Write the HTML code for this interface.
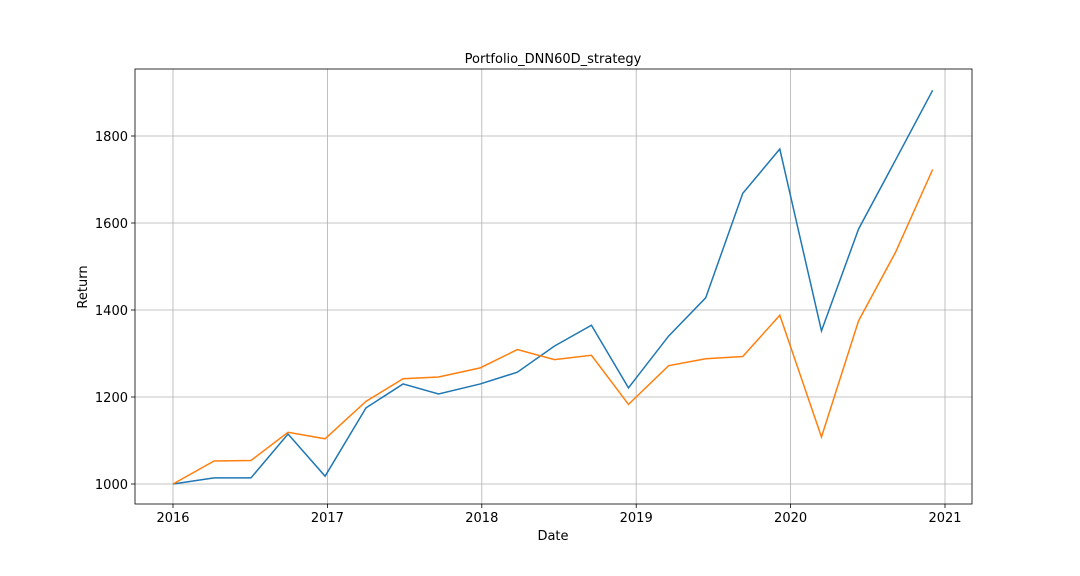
<!DOCTYPE html>
<html><head><meta charset="utf-8"><style>
body{margin:0;background:#fff;}
svg{display:block;font-family:"DejaVu Sans","Liberation Sans",sans-serif;}
</style></head><body>
<svg id="chart" width="1080" height="576"></svg>
<script>
const dates=[2016.0,2016.266,2016.505,2016.745,2016.985,2017.25,2017.49,2017.72,2017.99,2018.23,2018.47,2018.71,2018.95,2019.21,2019.45,2019.69,2019.93,2020.20,2020.44,2020.68,2020.92];
const seriesBlue=[1000,1014,1014,1115,1018,1175,1230,1207,1230,1257,1317,1365,1221,1340,1428,1668,1770,1352,1586,1745,1905];
const seriesOrange=[1000,1053,1054,1119,1104,1190,1242,1246,1267,1309,1286,1296,1183,1272,1288,1293,1388,1108,1375,1533,1723];
const xTicks=[2016,2017,2018,2019,2020,2021];
const yTicks=[1000,1200,1400,1600,1800];
const L=135,R=972,T=69,B=504;
const xs=v=>173+(v-2016)*154.4;
const ys=v=>484-(v-1000)*0.435;
const svg=document.getElementById('chart');
const NS='http://www.w3.org/2000/svg';
function mk(tag,attrs,parent){const e=document.createElementNS(NS,tag);for(const k in attrs)e.setAttribute(k,attrs[k]);(parent||svg).appendChild(e);return e;}
xTicks.forEach(t=>{const x=xs(t);
 const g=mk('line',{x1:x,x2:x,y1:T,y2:B,stroke:'#b0b0b0','stroke-width':0.8});
 
 
 mk('line',{x1:x,x2:x,y1:B,y2:B+4,stroke:'#000','stroke-width':0.8});
 const tx=mk('text',{x:x,y:B+18,'text-anchor':'middle','font-size':13});tx.textContent=t;
 
 
});
yTicks.forEach(t=>{const y=ys(t);
 const g=mk('line',{x1:L,x2:R,y1:y,y2:y,stroke:'#b0b0b0','stroke-width':0.8});
 
 
 mk('line',{x1:L-4,x2:L,y1:y,y2:y,stroke:'#000','stroke-width':0.8});
 const tx=mk('text',{x:L-7,y:y+5,'text-anchor':'end','font-size':13});tx.textContent=t;
 
 
});
function line(vals,color,name){
 const p=mk('polyline',{points:vals.map((v,i)=>xs(dates[i])+','+ys(v)).join(' '),fill:'none',stroke:color,'stroke-width':1.5});
 
 
}
line(seriesBlue,'#1f77b4','series-blue-line');
line(seriesOrange,'#ff7f0e','series-orange-line');
const fr=mk('rect',{x:L,y:T,width:R-L,height:B-T,fill:'none',stroke:'#000','stroke-width':0.8});


const ti=mk('text',{x:553,y:63,'text-anchor':'middle','font-size':13});ti.textContent='Portfolio_DNN60D_strategy';


const xl=mk('text',{x:553,y:540,'text-anchor':'middle','font-size':13});xl.textContent='Date';


const yl=mk('text',{x:0,y:0,'text-anchor':'middle','font-size':13,transform:'translate(87,287) rotate(-90)'});yl.textContent='Return';


</script>
</body></html>
